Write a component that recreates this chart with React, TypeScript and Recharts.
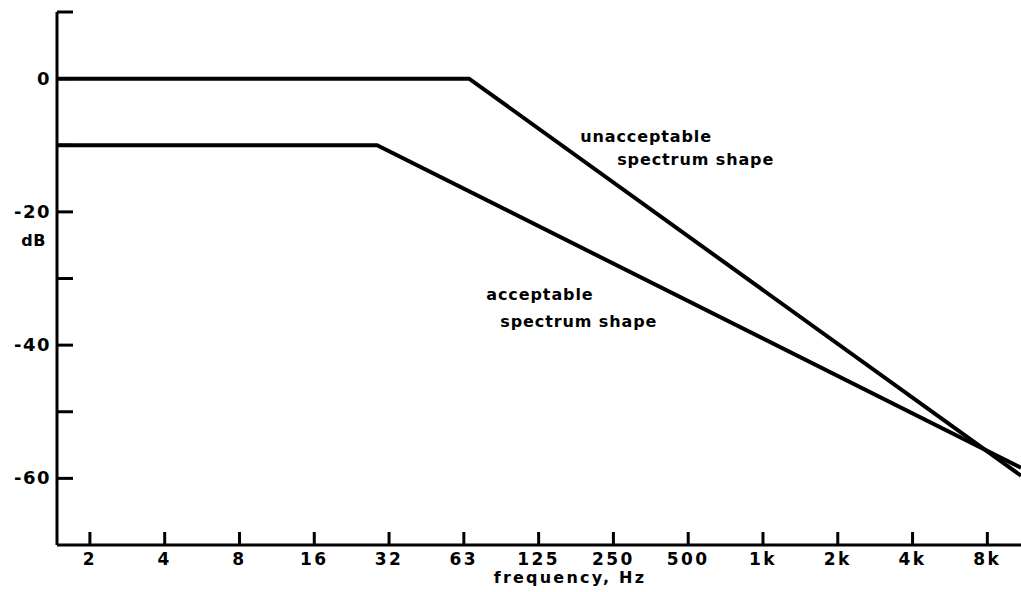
import React from "react";
import { LineChart, Line, XAxis, YAxis, ReferenceDot } from "recharts";

// x is the octave index: 1 = 2 Hz, 2 = 4 Hz ... 13 = 8 kHz
const octaveTicks = [1, 2, 3, 4, 5, 6, 7, 8, 9, 10, 11, 12, 13];
const freqLabels = ["2", "4", "8", "16", "32", "63", "125", "250", "500", "1k", "2k", "4k", "8k"];
const dbTicks = [10, 0, -10, -20, -30, -40, -50, -60];
const dbLabels: Record<number, string> = { 0: "0", [-20]: "-20", [-40]: "-40", [-60]: "-60" };

const unacceptable = [
  { x: 0.56, y: 0 },
  { x: 6.07, y: 0 },
  { x: 13.45, y: -59.6 },
];
const acceptable = [
  { x: 0.56, y: -10 },
  { x: 4.84, y: -10 },
  { x: 13.45, y: -58.4 },
];

const annotations = [
  { x: 7.555, y: -8.7, line1: "unacceptable", line2: "spectrum shape", dx: 37, dy: 23 },
  { x: 6.3, y: -32.5, line1: "acceptable", line2: "spectrum shape", dx: 14, dy: 27 },
];

const FONT = "'DejaVu Sans', sans-serif";

const YTick = (props: any) => {
  const { x, y, payload } = props;
  const label = dbLabels[payload.value];
  return (
    <g>
      <line x1={x} x2={x + 16} y1={y} y2={y} stroke="#000" strokeWidth={3} />
      {label && (
        <text x={x - 6} y={y} dy={6} textAnchor="end" fontFamily={FONT} fontWeight="bold" fontSize={18} letterSpacing={1.5} fill="#000">
          {label}
        </text>
      )}
      {payload.value === -20 && (
        <text x={x - 11} y={y + 28} dy={6} textAnchor="end" fontFamily={FONT} fontWeight="bold" fontSize={16} letterSpacing={0.5} fill="#000">
          dB
        </text>
      )}
    </g>
  );
};

const XTick = (props: any) => {
  const { x, y, payload } = props;
  return (
    <g>
      <line x1={x} x2={x} y1={y} y2={y - 13} stroke="#000" strokeWidth={3} />
      <text x={x} y={y + 14} dy={6} textAnchor="middle" fontFamily={FONT} fontWeight="bold" fontSize={17} letterSpacing={2.5} fill="#000">
        {freqLabels[payload.value - 1]}
      </text>
    </g>
  );
};

const NoteLabel = (props: any) => {
  const { viewBox, a } = props;
  const x = viewBox.x + (viewBox.width || 0) / 2;
  const y = viewBox.y + (viewBox.height || 0) / 2;
  return (
    <g fontFamily={FONT} fontWeight="bold" fontSize={16} letterSpacing={0.9} fill="#000">
      <text x={x} y={y} dy={5}>{a.line1}</text>
      <text x={x + a.dx} y={y + a.dy} dy={5}>{a.line2}</text>
    </g>
  );
};

const AxisTitle = (props: any) => {
  const { viewBox } = props;
  const cx = viewBox.x + viewBox.width / 2 + 31;
  return (
    <text x={cx} y={viewBox.y + 38} textAnchor="middle" fontFamily={FONT} fontWeight="bold" fontSize={16} letterSpacing={2.2} fill="#000">
      frequency,  Hz
    </text>
  );
};

export default function App() {
  return (
    <div style={{ position: "fixed", left: 0, top: 0, width: 1021, height: 592, background: "#fff" }}>
      <LineChart width={1021} height={592} margin={{ top: 12, right: 0, bottom: 0, left: 0 }}>
        <XAxis
          type="number"
          dataKey="x"
          domain={[0.56, 13.45]}
          allowDataOverflow
          ticks={octaveTicks}
          tick={<XTick />}
          tickLine={false}
          tickSize={0}
          tickMargin={0}
          height={47}
          axisLine={{ stroke: "#000", strokeWidth: 3 }}
          label={<AxisTitle />}
        />
        <YAxis
          type="number"
          domain={[-70, 10]}
          allowDataOverflow
          ticks={dbTicks}
          tick={<YTick />}
          tickLine={false}
          tickSize={0}
          tickMargin={0}
          width={57}
          axisLine={{ stroke: "#000", strokeWidth: 3 }}
          interval={0}
        />
        <Line data={unacceptable} dataKey="y" type="linear" stroke="#000" strokeWidth={4} dot={false} isAnimationActive={false} />
        <Line data={acceptable} dataKey="y" type="linear" stroke="#000" strokeWidth={4} dot={false} isAnimationActive={false} />
        {annotations.map((a, i) => (
          <ReferenceDot key={i} x={a.x} y={a.y} r={0} fill="none" stroke="none" label={<NoteLabel a={a} />} />
        ))}
      </LineChart>
    </div>
  );
}
